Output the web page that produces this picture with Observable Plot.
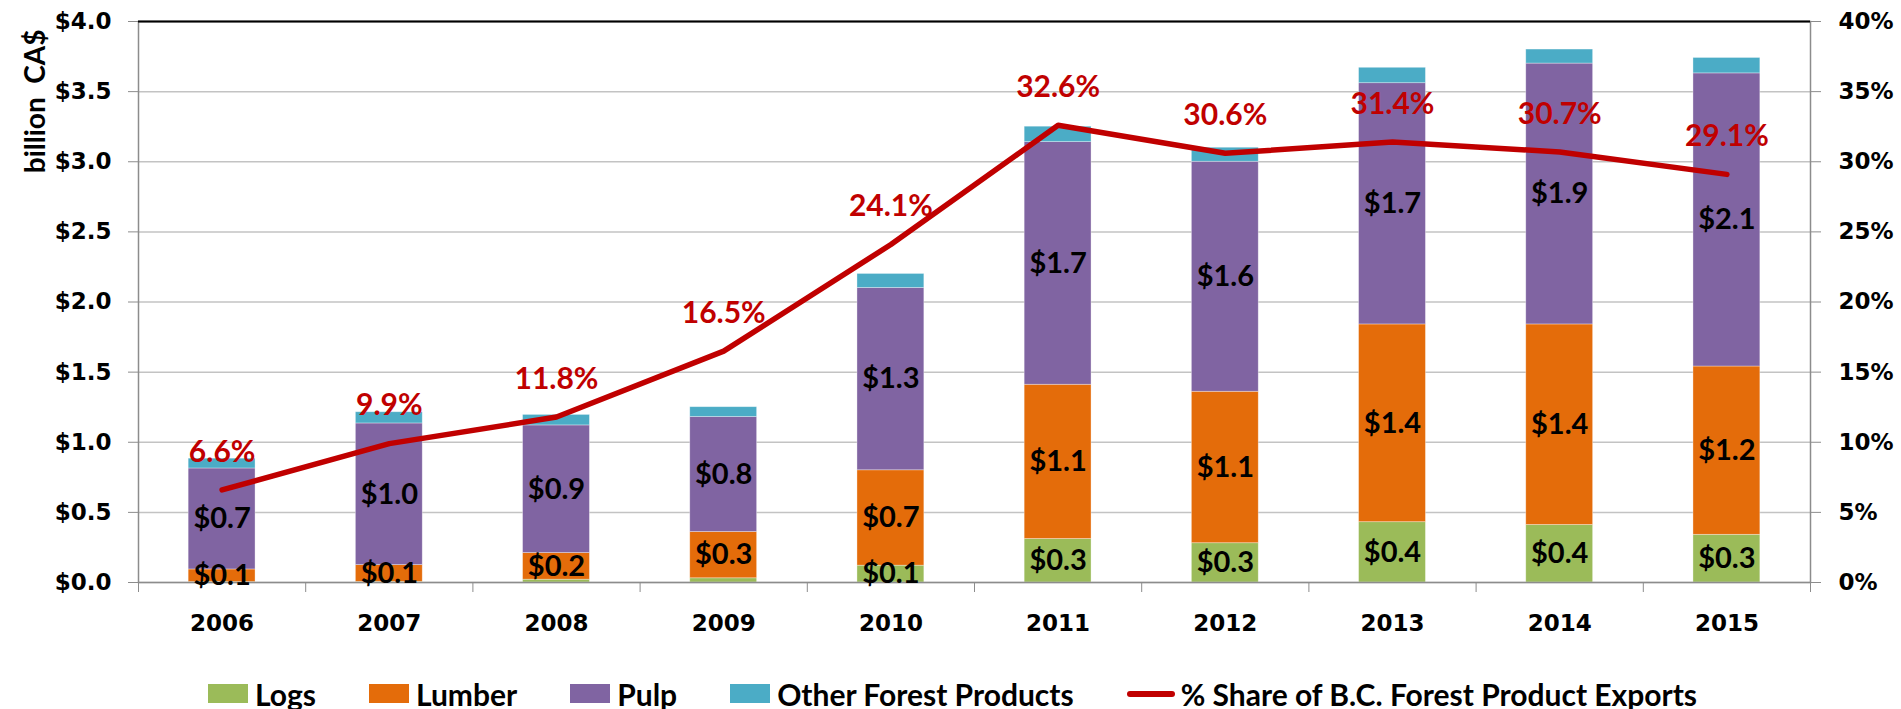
<!DOCTYPE html>
<html>
<head>
<meta charset="utf-8">
<script src="https://cdn.jsdelivr.net/npm/d3@7"></script>
<script src="https://cdn.jsdelivr.net/npm/@observablehq/plot@0.6"></script>
<style>
  html, body { margin: 0; padding: 0; background: #fff; }
  #chart svg { display: block; }
  .legend { display: flex; align-items: center; height: 64px; box-sizing: border-box; padding-top: 33px; padding-left: 208px;
            font-family: Lato, "Open Sans", sans-serif; font-weight: bold; font-size: 30px; color: #000; white-space: nowrap; }
  .legend .item { display: flex; align-items: center; margin-right: 53px; }
  .legend .sw { width: 40px; height: 19px; margin-right: 7px; }
  .legend .ln { width: 48px; height: 6px; border-radius: 3px; background: #C00000; margin-right: 6px; }
</style>
</head>
<body>
<div id="chart"></div>
<div class="legend" id="legend"></div>
<script>
const years = [2006, 2007, 2008, 2009, 2010, 2011, 2012, 2013, 2014, 2015];
const seriesNames = ["Logs", "Lumber", "Pulp", "Other Forest Products"];
const seriesColors = ["#9BBB59", "#E46C0A", "#8064A2", "#4BACC6"];
const labelledSeries = ["Logs", "Lumber", "Pulp"];
const logs   = [0.003, 0.004, 0.02, 0.03, 0.12, 0.31, 0.28, 0.43, 0.41, 0.34];
const lumber = [0.09, 0.12, 0.19, 0.33, 0.68, 1.10, 1.08, 1.41, 1.43, 1.20];
const pulp   = [0.72, 1.01, 0.91, 0.82, 1.30, 1.73, 1.64, 1.72, 1.86, 2.09];
const other  = [0.07, 0.08, 0.075, 0.07, 0.10, 0.11, 0.10, 0.11, 0.10, 0.11];
const share  = [6.6, 9.9, 11.8, 16.5, 24.1, 32.6, 30.6, 31.4, 30.7, 29.1];
const shareName = "% Share of B.C. Forest Product Exports";
const leftTicks = [0, 0.5, 1.0, 1.5, 2.0, 2.5, 3.0, 3.5, 4.0];
const rightTicks = [0, 5, 10, 15, 20, 25, 30, 35, 40];
const yTitle = "billion  CA$";

const seriesValues = [logs, lumber, pulp, other];
const rows = years.flatMap((year, i) => seriesNames.map((s, j) => ({year, series: s, value: seriesValues[j][i]})));
const shareRows = years.map((year, i) => ({year, share: share[i]}));
const boundaries = [...years.map(y => y - 0.5), years[years.length - 1] + 0.5];
const fmt1 = d3.format(".1f");
const axisFont = {fontSize: 23, fontWeight: "bold", fontFamily: "DejaVu Sans", fill: "#000"};
const grey = "#8c8c8c";

const chart = Plot.plot({
  width: 1901,
  height: 645,
  marginTop: 21,
  marginLeft: 138,
  marginRight: 91,
  marginBottom: 63,
  style: {background: "#fff", color: "#000"},
  x: {domain: [boundaries[0], boundaries[boundaries.length - 1]], label: null},
  y: {domain: [leftTicks[0], leftTicks[leftTicks.length - 1]], label: null},
  color: {domain: seriesNames, range: seriesColors},
  marks: [
    Plot.gridY(leftTicks, {stroke: "#c3c3c3", strokeOpacity: 1, strokeWidth: 1.5}),
    Plot.rectY(rows, {x1: d => d.year - 0.2, x2: d => d.year + 0.2, y: "value", fill: "series", z: "series", order: seriesNames,
      stroke: "#fff", strokeOpacity: 0.45, strokeWidth: 0.75}),
    Plot.frame({stroke: grey, strokeWidth: 1.5}),
    Plot.ruleY([leftTicks[leftTicks.length - 1]], {stroke: "#000", strokeWidth: 2}),
    Plot.axisY(leftTicks, {anchor: "left", tickSize: 10, tickPadding: 17, stroke: grey, label: null,
      tickFormat: d => "$" + fmt1(d), ...axisFont}),
    Plot.axisY(rightTicks.map(t => t / 10), {anchor: "right", tickSize: 10, tickPadding: 18, stroke: grey, label: null,
      tickFormat: d => Math.round(d * 10) + "%", ...axisFont}),
    Plot.axisX(boundaries, {tickSize: 10, stroke: grey, tickFormat: () => "", label: null}),
    Plot.axisX(years, {tickSize: 0, tickPadding: 32, tickFormat: d => String(d), label: null, ...axisFont}),
    Plot.text(rows, Plot.stackY({x: "year", y: "value", z: "series", order: seriesNames,
      text: d => labelledSeries.includes(d.series) && d.value >= 0.05 ? "$" + fmt1(d.value) : "",
      fontSize: 29, fontWeight: "bold", fontFamily: "Lato", fill: "#000"})),
    Plot.line(shareRows, {x: "year", y: d => d.share / 10, stroke: "#C00000", strokeWidth: 5.5,
      strokeLinejoin: "round", strokeLinecap: "round"}),
    Plot.text(shareRows, {x: "year", y: d => d.share / 10, text: d => fmt1(d.share) + "%", dy: -38,
      fill: "#C00000", fontSize: 30, fontWeight: "bold", fontFamily: "Lato"}),
    Plot.text([yTitle], {frameAnchor: "top-left", rotate: -90, textAnchor: "end", dx: -113, dy: 8,
      fontSize: 28, fontWeight: "bold", fontFamily: "Lato", fill: "#000"})
  ]
});
document.getElementById("chart").appendChild(chart);

const legend = document.getElementById("legend");
seriesNames.forEach((s, i) => {
  const item = document.createElement("div");
  item.className = "item";
  item.innerHTML = `<div class="sw" style="background:${seriesColors[i]}"></div><span>${s}</span>`;
  legend.appendChild(item);
});
const li = document.createElement("div");
li.className = "item";
li.innerHTML = `<div class="ln"></div><span>${shareName}</span>`;
legend.appendChild(li);
</script>
</body>
</html>
